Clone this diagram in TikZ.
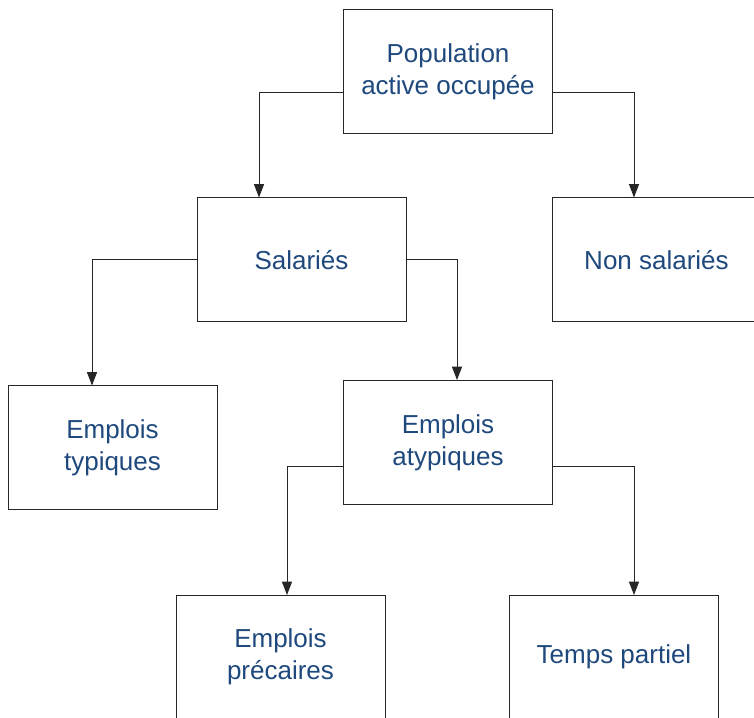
\documentclass[tikz,border=0pt]{standalone}
\usepackage{fontspec}
\setmainfont{Liberation Sans}
\usetikzlibrary{arrows.meta,calc}
\definecolor{boxtext}{HTML}{1F497D}
\definecolor{boxline}{HTML}{262626}

\begin{document}
\begin{tikzpicture}[
  x=0.75pt,
  y=0.75pt,
  every node/.style={font=\fontsize{19.5}{24}\selectfont, boxtext},
  orgbox/.style={draw=boxline, line width=0.75pt, fill=white, align=center,
                 minimum width=156.75pt, minimum height=93pt, inner sep=0pt},
  cutbox/.style={orgbox, minimum height=105pt},
  boxlabel/.style={align=center, inner sep=0pt},
  link/.style={boxline, line width=0.75pt, -{Triangle[length=10pt, width=7.5pt]}}
]
  % ---- page frame, the lowest and rightmost boxes run off it ----
  \useasboundingbox (0,0) rectangle (754,718);
  \clip (0,0) rectangle (754,718);

  % ---- boxes ----
  \node[orgbox] (pop)  at (448,646)   {Population\\active occupée};
  \node[orgbox] (sal)  at (301.5,458) {Salariés};
  \node[orgbox] (non)  at (656.5,458) {Non salariés};
  \node[orgbox] (typ)  at (112.5,270) {Emplois\\typiques};
  \node[orgbox] (atyp) at (448,275.5) {Emplois\\atypiques};
  \node[cutbox, anchor=north] (prec)  at (280.5,123) {};
  \node[cutbox, anchor=north] (temps) at (614,123)   {};
  \node[boxlabel] (preclab)  at (280.5,61) {Emplois\\précaires};
  \node[boxlabel] (tempslab) at (614,61)   {Temps partiel};

  % ---- connectors ----
  \draw[link] ($(pop.west)+(0,-21)$)    -| ($(sal.north)+(-42.5,0)$);
  \draw[link] ($(pop.east)+(0,-21)$)    -| ($(non.north)+(-22.5,0)$);
  \draw[link] (sal.west)                -| ($(typ.north)+(-20.5,0)$);
  \draw[link] (sal.east)                -| ($(atyp.north)+(9,0)$);
  \draw[link] ($(atyp.west)+(0,-24.5)$) -| ($(prec.north)+(6.5,0)$);
  \draw[link] ($(atyp.east)+(0,-24.5)$) -| ($(temps.north)+(20,0)$);
\end{tikzpicture}
\end{document}
